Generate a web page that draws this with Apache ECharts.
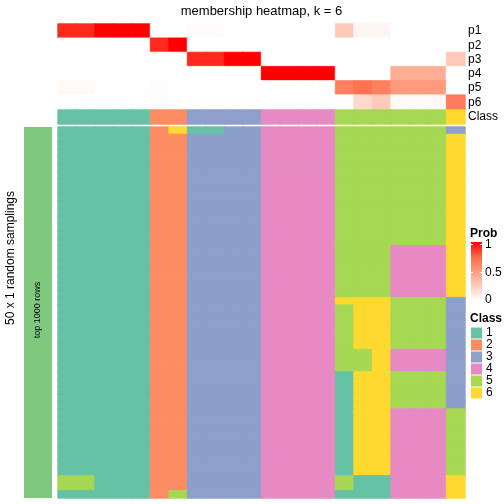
<!DOCTYPE html>
<html><head><meta charset="utf-8">
<script src="https://cdn.jsdelivr.net/npm/echarts@6/dist/echarts.min.js"></script>
<style>html,body{margin:0;padding:0;background:#fff}#c{width:504px;height:504px}</style>
</head><body><div id="c"></div>
<script>
const FONT = '"Liberation Sans", Arial, Helvetica, sans-serif';
const samples = ['s1','s2','s3','s4','s5','s6','s7','s8','s9','s10','s11','s12','s13','s14','s15','s16','s17','s18','s19','s20','s21','s22'];
const probNames = ['p1','p2','p3','p4','p5','p6'];
const p1 = [0.9,0.9,1,1,1, 0,0, 0.02,0.02,0,0, 0,0,0,0, 0.27,0.05,0.05, 0,0,0, 0];
const p2 = [0,0,0,0,0, 0.9,1, 0,0,0,0, 0,0,0,0, 0,0,0, 0,0,0, 0];
const p3 = [0,0,0,0,0, 0,0, 0.9,0.9,1,1, 0,0,0,0, 0,0,0, 0,0,0, 0.28];
const p4 = [0,0,0,0,0, 0,0, 0,0,0,0, 1,1,1,1, 0,0,0, 0.42,0.42,0.42, 0];
const p5 = [0.03,0.03,0,0,0, 0.01,0, 0,0,0,0, 0,0,0,0, 0.64,0.7,0.64, 0.52,0.52,0.52, 0];
const p6 = [0,0,0,0,0, 0.01,0, 0,0,0,0, 0,0,0,0, 0,0.2,0.27, 0.03,0.03,0.03, 0.66];
const sampleClass = [1,1,1,1,1,2,2,3,3,3,3,4,4,4,4,5,5,5,5,5,5,6];
// class assigned in each of the 50 random samplings (row) for each sample (column)
const samplingRows = [
'1111126113344445555553',
'1111122333344445555556','1111122333344445555556','1111122333344445555556','1111122333344445555556','1111122333344445555556',
'1111122333344445555556','1111122333344445555556','1111122333344445555556','1111122333344445555556','1111122333344445555556',
'1111122333344445555556','1111122333344445555556','1111122333344445555556','1111122333344445555556','1111122333344445555556',
'1111122333344445554446','1111122333344445554446','1111122333344445554446','1111122333344445554446','1111122333344445554446',
'1111122333344445554446','1111122333344445554446',
'1111122333344446665553',
'1111122333344445665553','1111122333344445665553','1111122333344445665553','1111122333344445665553','1111122333344445665553',
'1111122333344445665553',
'1111122333344445564443','1111122333344445564443','1111122333344445564443',
'1111122333344441665553','1111122333344441665553','1111122333344441665553','1111122333344441665553','1111122333344441665553',
'1111122333344441664445','1111122333344441664445','1111122333344441664445','1111122333344441664445','1111122333344441664445',
'1111122333344441664445','1111122333344441664445','1111122333344441664445','1111122333344441664445',
'5511122333344445114446','5511122333344445114446',
'1111125333344441114446'
];
const classLabels = ['1','2','3','4','5','6'];
const classColors = ['#66C2A5','#FC8D62','#8DA0CB','#E78AC3','#A6D854','#FFD92F'];
const probColors = ['#FFFFFF','#FFCFBE','#FF9E81','#FF6846','#FF0000'];
const probLegendTicks = ['0','0.5','1'];

const SEAM = 0.8;
function probCell(c,r,v){return {value:[c,r,v],itemStyle:{borderColor:echarts.color.lerp(v,probColors),borderWidth:SEAM}};}
function classCell(c,r,v){return {value:[c,r,v],itemStyle:{borderColor:classColors[v-1],borderWidth:SEAM}};}
const probRows = [p1,p2,p3,p4,p5,p6];
const probData = [];
probRows.forEach((row,r)=>row.forEach((v,c)=>probData.push(probCell(c,r,v))));
const classData = sampleClass.map((v,c)=>classCell(c,0,v));
const samplingNames = samplingRows.map((_,i)=>String(i+1));
const bodyData = [];
samplingRows.forEach((s,r)=>{for(let c=0;c<s.length;c++) bodyData.push(classCell(c,r,+s[c]));});

const hidden = {show:false};
function xAx(i){return {type:'category',gridIndex:i,data:samples,show:false};}
const lab = {fontSize:12,color:'#000',fontFamily:FONT,margin:3,interval:0};
const chart = echarts.init(document.getElementById('c'),null,{renderer:'canvas'});
chart.setOption({
  animation:false,
  backgroundColor:'#fff',
  grid:[
    {left:58,top:24,width:407,height:85.3},
    {left:58,top:110,width:407,height:14},
    {left:58,top:127,width:407,height:371}
  ],
  xAxis:[xAx(0),xAx(1),xAx(2)],
  yAxis:[
    {type:'category',gridIndex:0,data:probNames,inverse:true,position:'right',axisLine:hidden,axisTick:hidden,splitLine:hidden,axisLabel:lab},
    {type:'category',gridIndex:1,data:['Class'],position:'right',axisLine:hidden,axisTick:hidden,splitLine:hidden,axisLabel:lab},
    {type:'category',gridIndex:2,data:samplingNames,inverse:true,show:false}
  ],
  visualMap:[
    {type:'continuous',show:false,seriesIndex:0,dimension:2,min:0,max:1,inRange:{color:probColors}},
    {type:'piecewise',seriesIndex:[1,2],dimension:2,orient:'vertical',left:471,top:327,padding:0,align:'left',
     itemWidth:11,itemHeight:11,itemGap:0,itemSymbol:'rect',textGap:4,inverse:true,
     textStyle:{fontSize:12,color:'#000',fontFamily:FONT},
     pieces:classLabels.map((l,i)=>({value:i+1,label:l,color:classColors[i]}))}
  ],
  series:[
    {type:'heatmap',xAxisIndex:0,yAxisIndex:0,data:probData,emphasis:{disabled:true}},
    {type:'heatmap',xAxisIndex:1,yAxisIndex:1,data:classData,emphasis:{disabled:true}},
    {type:'heatmap',xAxisIndex:2,yAxisIndex:2,data:bodyData,emphasis:{disabled:true}}
  ],
  graphic:[
    {type:'text',x:261.5,y:11,style:{text:'membership heatmap, k = 6',fontSize:13,fontFamily:FONT,fill:'#000',align:'center',verticalAlign:'middle'}},
    {type:'rect',shape:{x:24,y:127,width:28,height:371},style:{fill:'#7FC97F'}},
    {type:'text',x:38,y:310,rotation:Math.PI/2,style:{text:'top 1000 rows',fontSize:9,fontFamily:FONT,fill:'#000',align:'center',verticalAlign:'middle'}},
    {type:'text',x:11,y:258,rotation:Math.PI/2,style:{text:'50 x 1 random samplings',fontSize:12,fontFamily:FONT,fill:'#000',align:'center',verticalAlign:'middle'}},
    {type:'text',x:470,y:234,style:{text:'Prob',fontSize:12,fontWeight:'bold',fontFamily:FONT,fill:'#000',verticalAlign:'middle'}},
    {type:'rect',shape:{x:471,y:242,width:11,height:59},style:{fill:new echarts.graphic.LinearGradient(0,0,0,1,probColors.slice().reverse().map((c,i)=>({offset:i/4,color:c})))}},
    {type:'line',shape:{x1:471,y1:272.5,x2:473,y2:272.5},style:{stroke:'#fff',lineWidth:1}},
    {type:'line',shape:{x1:480,y1:272.5,x2:482,y2:272.5},style:{stroke:'#fff',lineWidth:1}},
    {type:'line',shape:{x1:471,y1:244.5,x2:473,y2:244.5},style:{stroke:'#fff',lineWidth:1}},
    {type:'line',shape:{x1:480,y1:244.5,x2:482,y2:244.5},style:{stroke:'#fff',lineWidth:1}},
    {type:'text',x:485,y:300,style:{text:probLegendTicks[0],fontSize:12,fontFamily:FONT,fill:'#000',verticalAlign:'middle'}},
    {type:'text',x:485,y:272.5,style:{text:probLegendTicks[1],fontSize:12,fontFamily:FONT,fill:'#000',verticalAlign:'middle'}},
    {type:'text',x:485,y:245,style:{text:probLegendTicks[2],fontSize:12,fontFamily:FONT,fill:'#000',verticalAlign:'middle'}},
    {type:'text',x:470,y:319,style:{text:'Class',fontSize:12,fontWeight:'bold',fontFamily:FONT,fill:'#000',verticalAlign:'middle'}}
  ]
});
</script></body></html>
